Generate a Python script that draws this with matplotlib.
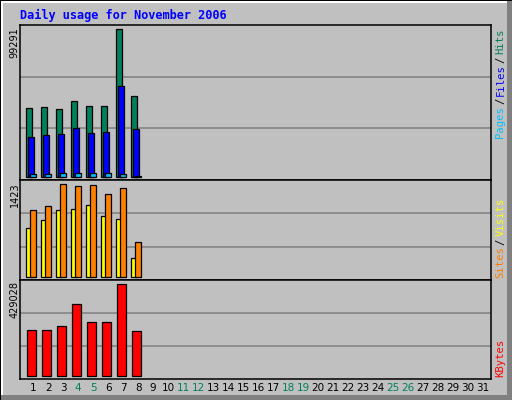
import matplotlib
matplotlib.use('Agg')
import matplotlib.pyplot as plt
from matplotlib.patches import Rectangle

# Daily usage, November 2006 (only days 1-8 have data)
days = list(range(1, 32))
weekend_days = [4, 5, 11, 12, 18, 19, 25, 26]
data_days = [1, 2, 3, 4, 5, 6, 7, 8]
hits = [46070, 46750, 45600, 50800, 47420, 47420, 99291, 54170]
files = [26680, 28030, 28710, 32760, 29380, 30060, 61130, 32090]
pages = [1700, 1700, 2360, 2360, 2360, 2360, 1700, 400]
visits = [750, 873, 1023, 1043, 1104, 935, 889, 288]
sites = [1023, 1089, 1423, 1397, 1412, 1274, 1361, 534]
kbytes = [212160, 212160, 231000, 336150, 249870, 249870, 429028, 207440]

BG = '#C0C0C0'
GRID = '#808080'
C_HITS = '#00805C'
C_FILES = '#0000FF'
C_PAGES = '#00C0FF'
C_VISITS = '#FFFF00'
C_SITES = '#FF8000'
C_KB = '#FF0000'

W, H = 512, 400
fig = plt.figure(figsize=(W / 100, H / 100), dpi=100, facecolor=BG)


def prect(x, y, w, h, color):
    # rectangle given in pixels from top-left
    fig.add_artist(Rectangle((x / W, 1 - (y + h) / H), w / W, h / H,
                             transform=fig.transFigure, color=color, lw=0))


# outer bevel
prect(0, 0, W, 1, 'black')
prect(0, 0, 1, H, 'black')
prect(1, 1, W - 1, 2, 'white')
prect(1, 1, 2, H - 1, 'white')
prect(W - 5, 1, 5, H - 1, GRID)
prect(1, H - 5, W - 1, 5, GRID)

left_px, right_px = 20, 491
xmin = 1 - 11.3 / 15
xmax = 1 + (right_px - 31.3) / 15


def panel(top, bottom, vmax):
    hgt = bottom - top
    ax = fig.add_axes([left_px / W, 1 - bottom / H, (right_px - left_px) / W, hgt / H])
    ax.set_facecolor(BG)
    s = vmax / (hgt - 7.5)
    ax.set_ylim(-3.3 * s, (hgt - 3.3) * s)
    ax.set_xlim(xmin, xmax)
    for f in (1 / 3, 2 / 3):
        ax.plot([0, 1], [f, f], transform=ax.transAxes, color=GRID, lw=1.1, zorder=0.5)
    for sp in ax.spines.values():
        sp.set_color('black')
        sp.set_linewidth(1.1)
    ax.set_yticks([])
    ax.set_xticks([])
    return ax


bw = 0.42
ax1 = panel(25, 180, max(hits))
ax1.bar([d - 0.153 for d in data_days], hits, bw, color=C_HITS, edgecolor='black', lw=0.9, zorder=2)
ax1.bar([d - 0.03 for d in data_days], files, bw, color=C_FILES, edgecolor='black', lw=0.9, zorder=3)
ax1.bar([d + 0.113 for d in data_days], pages, bw, color=C_PAGES, edgecolor='black', lw=0.9, zorder=4)

ax2 = panel(180, 280, max(sites))
ax2.bar([d - 0.153 for d in data_days], visits, bw, color=C_VISITS, edgecolor='black', lw=0.9, zorder=2)
ax2.bar([d + 0.113 for d in data_days], sites, bw, color=C_SITES, edgecolor='black', lw=0.9, zorder=3)

ax3 = panel(280, 379, max(kbytes))
ax3.bar(data_days, kbytes, 0.6, color=C_KB, edgecolor='black', lw=0.9, zorder=2)
ax3.set_xticks([d + 0.12 for d in days])
ax3.set_xticklabels([str(d) for d in days], fontsize=7.5, family='DejaVu Sans')
ax3.tick_params(axis='x', length=0, pad=3)
for lab, d in zip(ax3.get_xticklabels(), days):
    lab.set_color(C_HITS if d in weekend_days else 'black')

# title
fig.text(20 / W, 1 - 15.5 / H, 'Daily usage for November 2006', color='#0000FF',
         fontsize=8.6, fontweight='bold', family='DejaVu Sans Mono', va='center', ha='left')

# max labels on the left
for val, ytop in ((max(hits), 27), (max(sites), 182.5), (max(kbytes), 281.5)):
    fig.text(14.5 / W, 1 - ytop / H, str(val), rotation=90, fontsize=7,
             family='DejaVu Sans', va='top', ha='center', color='black')

# legends on the right, rotated pieces
mono = dict(rotation=90, fontsize=7.6, family='DejaVu Sans Mono', va='center', ha='center')
for txt, col, yc in (('Pages', C_PAGES, 122), ('/', 'black', 101), ('Files', C_FILES, 80),
                     ('/', 'black', 60), ('Hits', C_HITS, 41.3),
                     ('Sites', C_SITES, 262.5), ('/', 'black', 241.7), ('Visits', C_VISITS, 217),
                     ('KBytes', C_KB, 358.3)):
    fig.text(500.5 / W, 1 - yc / H, txt, color=col, **mono)

fig.savefig('out.png', dpi=100, facecolor=BG)
